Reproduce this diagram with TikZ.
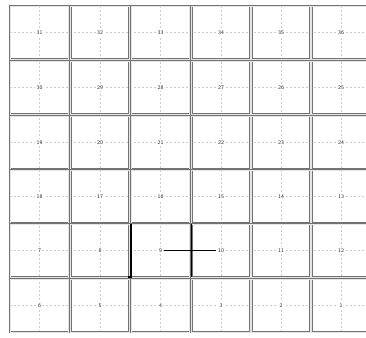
\documentclass[tikz,border=0pt]{standalone}
\usetikzlibrary{backgrounds}

\tikzset{
    cell/.style={draw=black!55, double=gray!20, double distance=0.7pt, line width=0.6pt,
        minimum width=58.5pt, minimum height=53pt, inner sep=0pt},
    num/.style={fill=white, inner sep=1.5pt, font=\fontsize{5.5}{6}\sffamily, text=black!85},
    guide/.style={gray!40, line width=0.45pt, dash pattern=on 2.5pt off 1.5pt},
    wall/.style={line width=1.7pt, black}
}

\begin{document}
\begin{tikzpicture}[x=1pt, y=-1pt]
        \useasboundingbox (0, 0) rectangle (366, 337);
        \clip (0, 0) rectangle (366, 337);

        % row 1 (top)
        \node [cell, label={[num, name=n31]center:31}] (c31) at (39.5, 32.5) {};
        \node [cell, label={[num, name=n32]center:32}] (c32) at (100, 32.5) {};
        \node [cell, label={[num, name=n33]center:33}] (c33) at (160.5, 32.5) {};
        \node [cell, label={[num, name=n34]center:34}] (c34) at (221, 32.5) {};
        \node [cell, label={[num, name=n35]center:35}] (c35) at (281, 32.5) {};
        \node [cell, label={[num, name=n36]center:36}] (c36) at (341, 32.5) {};

        % row 2
        \node [cell, label={[num, name=n30]center:30}] (c30) at (39.5, 87.5) {};
        \node [cell, label={[num, name=n29]center:29}] (c29) at (100, 87.5) {};
        \node [cell, label={[num, name=n28]center:28}] (c28) at (160.5, 87.5) {};
        \node [cell, label={[num, name=n27]center:27}] (c27) at (221, 87.5) {};
        \node [cell, label={[num, name=n26]center:26}] (c26) at (281, 87.5) {};
        \node [cell, label={[num, name=n25]center:25}] (c25) at (341, 87.5) {};

        % row 3
        \node [cell, label={[num, name=n19]center:19}] (c19) at (39.5, 142.5) {};
        \node [cell, label={[num, name=n20]center:20}] (c20) at (100, 142.5) {};
        \node [cell, label={[num, name=n21]center:21}] (c21) at (160.5, 142.5) {};
        \node [cell, label={[num, name=n22]center:22}] (c22) at (221, 142.5) {};
        \node [cell, label={[num, name=n23]center:23}] (c23) at (281, 142.5) {};
        \node [cell, label={[num, name=n24]center:24}] (c24) at (341, 142.5) {};

        % row 4
        \node [cell, label={[num, name=n18]center:18}] (c18) at (39.5, 196.5) {};
        \node [cell, label={[num, name=n17]center:17}] (c17) at (100, 196.5) {};
        \node [cell, label={[num, name=n16]center:16}] (c16) at (160.5, 196.5) {};
        \node [cell, label={[num, name=n15]center:15}] (c15) at (221, 196.5) {};
        \node [cell, label={[num, name=n14]center:14}] (c14) at (281, 196.5) {};
        \node [cell, label={[num, name=n13]center:13}] (c13) at (341, 196.5) {};

        % row 5
        \node [cell, label={[num, name=n7]center:7}] (c7) at (39.5, 250.5) {};
        \node [cell, label={[num, name=n8]center:8}] (c8) at (100, 250.5) {};
        \node [cell, label={[num, name=n9]center:9}] (c9) at (160.5, 250.5) {};
        \node [cell, label={[num, name=n10]center:10}] (c10) at (221, 250.5) {};
        \node [cell, label={[num, name=n11]center:11}] (c11) at (281, 250.5) {};
        \node [cell, label={[num, name=n12]center:12}] (c12) at (341, 250.5) {};

        % row 6 (bottom)
        \node [cell, label={[num, name=n6]center:6}] (c6) at (39.5, 305.5) {};
        \node [cell, label={[num, name=n5]center:5}] (c5) at (100, 305.5) {};
        \node [cell, label={[num, name=n4]center:4}] (c4) at (160.5, 305.5) {};
        \node [cell, label={[num, name=n3]center:3}] (c3) at (221, 305.5) {};
        \node [cell, label={[num, name=n2]center:2}] (c2) at (281, 305.5) {};
        \node [cell, label={[num, name=n1]center:1}] (c1) at (341, 305.5) {};

        % dashed centre lines
        \begin{pgfonlayer}{background}
            \draw [guide] (c31.west) -- (c36.east);
            \draw [guide] (c30.west) -- (c25.east);
            \draw [guide] (c19.west) -- (c24.east);
            \draw [guide] (c18.west) -- (c13.east);
            \draw [guide] (c7.west) -- (c12.east);
            \draw [guide] (c6.west) -- (c1.east);
            \draw [guide] (c31.north) -- (c6.south);
            \draw [guide] (c32.north) -- (c5.south);
            \draw [guide] (c33.north) -- (c4.south);
            \draw [guide] (c34.north) -- (c3.south);
            \draw [guide] (c35.north) -- (c2.south);
            \draw [guide] (c36.north) -- (c1.south);
        \end{pgfonlayer}

        % black marks
        \draw [wall] (c9.north west) -- (c9.south west) -- ++(-2.5, 0);
        \draw [wall] (c10.north west) -- (c10.south west);
        \draw [wall] (n9.east) -- (n10.west);
    \end{tikzpicture}
\end{document}
